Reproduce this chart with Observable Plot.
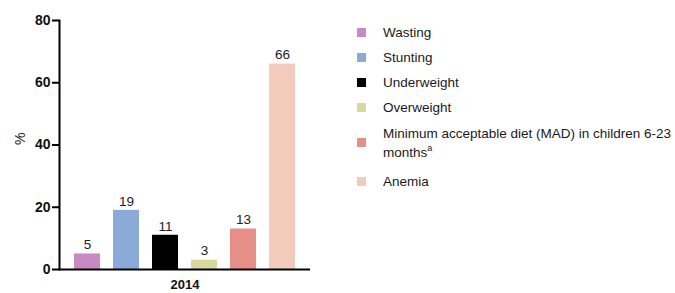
<!DOCTYPE html>
<html>
<head>
<meta charset="utf-8">
<script src="https://cdn.jsdelivr.net/npm/d3@7"></script>
<script src="https://cdn.jsdelivr.net/npm/@observablehq/plot@0.6"></script>
<style>
  html, body { margin: 0; padding: 0; background: #fff; }
  body { width: 675px; height: 293px; position: relative; overflow: hidden; font-family: "Liberation Sans", Arial, sans-serif; }
  #chart { position: absolute; left: 0; top: 0; }
  #legend { position: absolute; left: 357px; top: 19.5px; display: flex; flex-direction: column; font-size: 13.5px; color: #1a1a1a; }
  .row { display: flex; align-items: center; height: 25px; }
  .row.multi { height: auto; line-height: 19px; margin: 4px 0 7px 0; }
  .sw { width: 9px; height: 9px; flex: none; margin-right: 17px; }
  .lbl { white-space: nowrap; }
  sup { font-size: 9px; line-height: 0; vertical-align: 6px; }
</style>
</head>
<body>
<div id="chart"></div>
<div id="legend"></div>
<script>
const categories = ["Wasting", "Stunting", "Underweight", "Overweight", "MAD", "Anemia"];
const values = [5, 19, 11, 3, 13, 66];
const colors = ["#c98ac3", "#8aabd8", "#000000", "#d7d99b", "#e58f88", "#f3cbbd"];
const legendLabels = ["Wasting", "Stunting", "Underweight", "Overweight", "Minimum acceptable diet (MAD) in children 6-23<br>months<sup>a</sup>", "Anemia"];
const yTicks = [0, 20, 40, 60, 80];
const year = "2014";

const data = categories.map((c, i) => ({cat: c, value: values[i]}));

const chart = Plot.plot({
  width: 330,
  height: 293,
  marginLeft: 59,
  marginRight: 20,
  marginTop: 20,
  marginBottom: 24,
  style: {fontFamily: "Liberation Sans, Arial, sans-serif", background: "#fff"},
  x: {domain: categories, paddingInner: 0.34, paddingOuter: 0.352, axis: null},
  y: {domain: [0, 80]},
  color: {domain: categories, range: colors},
  marks: [
    Plot.barY(data, {x: "cat", y: "value", fill: "cat"}),
    Plot.text(data, {x: "cat", y: "value", text: d => String(d.value), dy: -9, fontSize: 13.5, fill: "#222"}),
    Plot.axisY({ticks: yTicks, tickSize: 7, tickPadding: 2, strokeWidth: 2, fontSize: 14, fontWeight: "bold", fill: "#111", label: null}),
    Plot.text(["%"], {frameAnchor: "left", dx: -39, rotate: -90, fontSize: 14, fill: "#222"}),
    Plot.text([year], {frameAnchor: "bottom", lineAnchor: "middle", dy: 15.5, fontSize: 13, fontWeight: "bold", fill: "#111"}),
    Plot.ruleY([0], {strokeWidth: 2, stroke: "#000"}),
    Plot.frame({anchor: "left", strokeWidth: 2, stroke: "#000"})
  ]
});
document.getElementById("chart").appendChild(chart);

const legend = document.getElementById("legend");
categories.forEach((c, i) => {
  const row = document.createElement("div");
  row.className = "row" + (legendLabels[i].includes("<br>") ? " multi" : "");
  row.innerHTML = `<span class="sw" style="background:${colors[i]}"></span><span class="lbl">${legendLabels[i]}</span>`;
  legend.appendChild(row);
});
</script>
</body>
</html>
